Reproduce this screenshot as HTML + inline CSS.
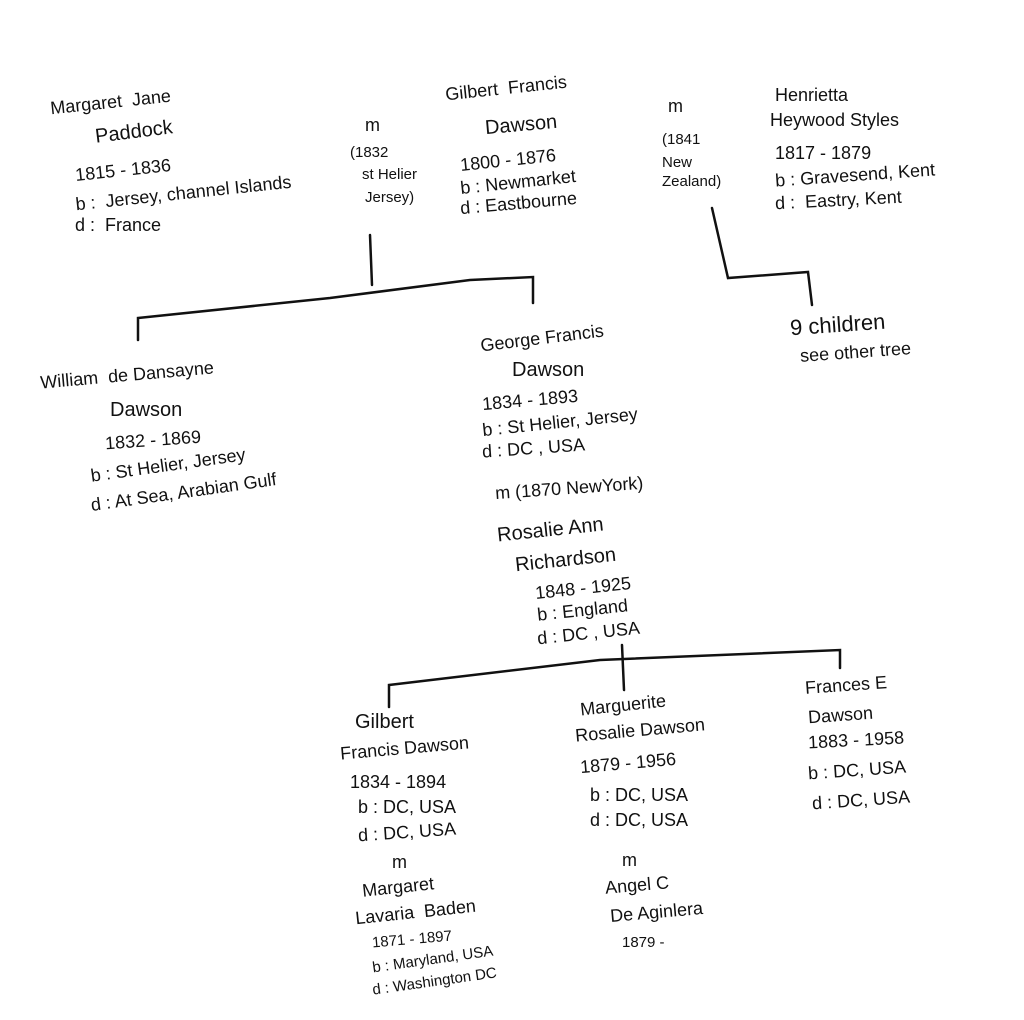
<!DOCTYPE html>
<html><head><meta charset="utf-8"><style>
html,body{margin:0;padding:0;background:#fff;}
#c{position:relative;width:1024px;height:1020px;overflow:hidden;font-family:"Liberation Sans",sans-serif;color:#111;}
.t{position:absolute;white-space:nowrap;font-size:18px;line-height:20px;}
.s{font-size:15px;}
svg{position:absolute;left:0;top:0;}
</style></head><body><div id="c">
<svg width="1024" height="1020"><g stroke="#111" stroke-width="2.5" fill="none" stroke-linecap="round">
<path d="M370 235 L372 285"/>
<path d="M138 340 L138 318 L330 298 L470 280 L533 277 L533 303"/>
<path d="M712 208 L728 278 L808 272 L812 305"/>
<path d="M622 645 L624 690"/>
<path d="M389 707 L389 685 L600 660 L840 650 L840 668"/>
</g></svg>

<div class="t" style="left:50px;top:92px;transform:rotate(-6deg)">Margaret &nbsp;Jane</div>
<div class="t" style="left:95px;top:122px;font-size:20px;transform:rotate(-7deg)">Paddock</div>
<div class="t" style="left:75px;top:160px;transform:rotate(-6deg)">1815 - 1836</div>
<div class="t" style="left:75px;top:183px;transform:rotate(-6deg)">b : &nbsp;Jersey, channel Islands</div>
<div class="t" style="left:75px;top:215px">d : &nbsp;France</div>

<div class="t" style="left:365px;top:115px">m</div>
<div class="t s" style="left:350px;top:143px">(1832</div>
<div class="t s" style="left:362px;top:165px">st Helier</div>
<div class="t s" style="left:365px;top:188px">Jersey)</div>

<div class="t" style="left:445px;top:78px;transform:rotate(-6deg)">Gilbert &nbsp;Francis</div>
<div class="t" style="left:485px;top:115px;font-size:20px;transform:rotate(-5deg)">Dawson</div>
<div class="t" style="left:460px;top:150px;transform:rotate(-6deg)">1800 - 1876</div>
<div class="t" style="left:460px;top:172px;transform:rotate(-6deg)">b : Newmarket</div>
<div class="t" style="left:460px;top:193px;transform:rotate(-5deg)">d : Eastbourne</div>

<div class="t" style="left:668px;top:96px">m</div>
<div class="t s" style="left:662px;top:130px">(1841</div>
<div class="t s" style="left:662px;top:153px">New</div>
<div class="t s" style="left:662px;top:172px">Zealand)</div>

<div class="t" style="left:775px;top:85px">Henrietta</div>
<div class="t" style="left:770px;top:110px">Heywood Styles</div>
<div class="t" style="left:775px;top:143px">1817 - 1879</div>
<div class="t" style="left:775px;top:165px;transform:rotate(-4deg)">b : Gravesend, Kent</div>
<div class="t" style="left:775px;top:190px;transform:rotate(-3deg)">d : &nbsp;Eastry, Kent</div>

<div class="t" style="left:790px;top:315px;font-size:22px;transform:rotate(-4deg)">9 children</div>
<div class="t" style="left:800px;top:342px;transform:rotate(-4deg)">see other tree</div>

<div class="t" style="left:40px;top:365px;transform:rotate(-5deg)">William &nbsp;de Dansayne</div>
<div class="t" style="left:110px;top:400px;font-size:20px">Dawson</div>
<div class="t" style="left:105px;top:430px;transform:rotate(-4deg)">1832 - 1869</div>
<div class="t" style="left:90px;top:455px;transform:rotate(-8deg)">b : St Helier, Jersey</div>
<div class="t" style="left:90px;top:482px;transform:rotate(-8deg)">d : At Sea, Arabian Gulf</div>

<div class="t" style="left:480px;top:328px;transform:rotate(-7deg)">George Francis</div>
<div class="t" style="left:512px;top:360px;font-size:20px">Dawson</div>
<div class="t" style="left:482px;top:390px;transform:rotate(-5deg)">1834 - 1893</div>
<div class="t" style="left:482px;top:412px;transform:rotate(-6deg)">b : St Helier, Jersey</div>
<div class="t" style="left:482px;top:438px;transform:rotate(-4deg)">d : DC , USA</div>
<div class="t" style="left:495px;top:478px;transform:rotate(-4deg)">m (1870 NewYork)</div>
<div class="t" style="left:497px;top:520px;font-size:20px;transform:rotate(-6deg)">Rosalie Ann</div>
<div class="t" style="left:515px;top:550px;font-size:20px;transform:rotate(-6deg)">Richardson</div>
<div class="t" style="left:535px;top:578px;transform:rotate(-6deg)">1848 - 1925</div>
<div class="t" style="left:537px;top:600px;transform:rotate(-6deg)">b : England</div>
<div class="t" style="left:537px;top:623px;transform:rotate(-6deg)">d : DC , USA</div>

<div class="t" style="left:355px;top:712px;font-size:20px">Gilbert</div>
<div class="t" style="left:340px;top:738px;transform:rotate(-5deg)">Francis Dawson</div>
<div class="t" style="left:350px;top:772px">1834 - 1894</div>
<div class="t" style="left:358px;top:797px">b : DC, USA</div>
<div class="t" style="left:358px;top:822px;transform:rotate(-4deg)">d : DC, USA</div>
<div class="t" style="left:392px;top:852px">m</div>
<div class="t" style="left:362px;top:877px;transform:rotate(-6deg)">Margaret</div>
<div class="t" style="left:355px;top:902px;transform:rotate(-6deg)">Lavaria &nbsp;Baden</div>
<div class="t s" style="left:372px;top:930px;transform:rotate(-5deg)">1871 - 1897</div>
<div class="t s" style="left:372px;top:950px;transform:rotate(-8deg)">b : Maryland, USA</div>
<div class="t s" style="left:372px;top:972px;transform:rotate(-8deg)">d : Washington DC</div>

<div class="t" style="left:580px;top:695px;transform:rotate(-6deg)">Marguerite</div>
<div class="t" style="left:575px;top:720px;transform:rotate(-5deg)">Rosalie Dawson</div>
<div class="t" style="left:580px;top:753px;transform:rotate(-5deg)">1879 - 1956</div>
<div class="t" style="left:590px;top:785px">b : DC, USA</div>
<div class="t" style="left:590px;top:810px">d : DC, USA</div>
<div class="t" style="left:622px;top:850px">m</div>
<div class="t" style="left:605px;top:875px;transform:rotate(-5deg)">Angel C</div>
<div class="t" style="left:610px;top:902px;transform:rotate(-5deg)">De Aginlera</div>
<div class="t s" style="left:622px;top:933px">1879 -</div>

<div class="t" style="left:805px;top:675px;transform:rotate(-4deg)">Frances E</div>
<div class="t" style="left:808px;top:705px;transform:rotate(-4deg)">Dawson</div>
<div class="t" style="left:808px;top:730px;transform:rotate(-3deg)">1883 - 1958</div>
<div class="t" style="left:808px;top:760px;transform:rotate(-4deg)">b : DC, USA</div>
<div class="t" style="left:812px;top:790px;transform:rotate(-4deg)">d : DC, USA</div>
</div></body></html>
